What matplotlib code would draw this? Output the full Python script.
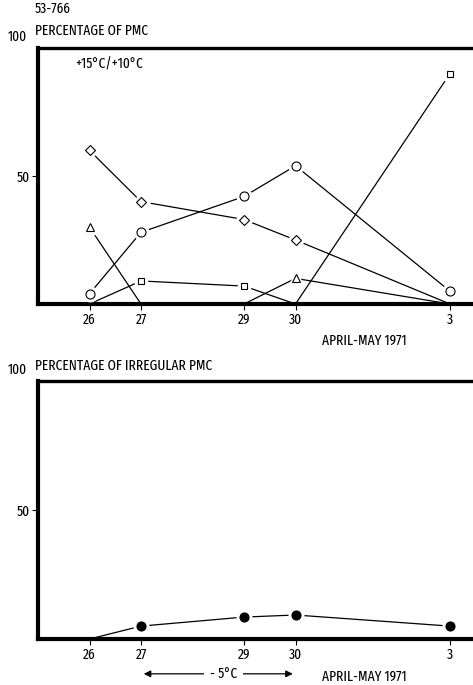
import matplotlib
matplotlib.use("Agg")
import matplotlib.pyplot as plt
import numpy as np

plt.rcParams['font.family'] = ['Fira Sans Extra Condensed', 'DejaVu Sans']
plt.rcParams['font.weight'] = 'normal'

# day index: April 26..30 -> 26..30, May 3 -> 33
days = [26, 27, 29, 30, 33]
day_labels = ["26", "27", "29", "30", "3"]

diamond = [60, 40, 33, 25, 0]
circle = [4, 28, 42, 54, 5]
triangle = [30, 0, 0, 10, 0]
square = [0, 9, 7, 0, 90]

irregular = [0, 5, 8.5, 9.3, 5]

W, H = 473, 685
fig = plt.figure(figsize=(W / 100, H / 100), dpi=100)

def fx(px):
    return px / W

def fy(py):
    return 1 - py / H

ax_left = 38
ax_w = 8.5 * 51.5
FS = 10.5

def make_ax(y0, y100):
    ax = fig.add_axes([fx(ax_left), fy(y0), ax_w / W, (y0 - y100) / H])
    ax.set_xlim(25, 33.5)
    ax.set_ylim(0, 100)
    ax.spines['right'].set_visible(False)
    ax.spines['left'].set_linewidth(3.0)
    ax.spines['bottom'].set_linewidth(3.0)
    ax.spines['top'].set_linewidth(2.4)
    ax.set_xticks(days)
    ax.set_xticklabels(day_labels, fontsize=FS)
    ax.set_yticks([50])
    ax.set_yticklabels(["50"], fontsize=FS)
    ax.tick_params(axis='both', direction='out', length=4, width=0.8, pad=2)
    ax.text(-0.068, 1.015, "100", transform=ax.transAxes, fontsize=FS, ha='left', va='bottom')
    return ax

def series(ax, vals, marker, ms, filled=False):
    mask = [v > 0 for v in vals]
    ax.plot(days, vals, color='black', lw=0.9, zorder=2, clip_on=False)
    xs = [d for d, m in zip(days, mask) if m]
    ys = [v for v, m in zip(vals, mask) if m]
    ax.plot(xs, ys, ls='none', marker=marker, ms=ms + 4, mfc='white', mec='white', zorder=3, clip_on=False)
    ax.plot(xs, ys, ls='none', marker=marker, ms=ms, mfc='black' if filled else 'white',
            mec='black', mew=0.8, zorder=4, clip_on=False)

# top panel
ax1 = make_ax(304, 48)
series(ax1, diamond, 'D', 5)
series(ax1, circle, 'o', 6.5)
series(ax1, triangle, '^', 6)
series(ax1, square, 's', 5)

fig.text(fx(35), fy(9), "53-766", fontsize=FS, ha='left', va='center')
fig.text(fx(35), fy(31), "PERCENTAGE OF PMC", fontsize=FS, ha='left', va='center')
fig.text(fx(75), fy(64), "+15°C/+10°C", fontsize=FS, ha='left', va='center')
fig.text(fx(322), fy(341), "APRIL-MAY 1971", fontsize=FS, ha='left', va='center')

# bottom panel
ax2 = make_ax(639, 381)
series(ax2, irregular, 'o', 6.5, filled=True)

fig.text(fx(35), fy(366), "PERCENTAGE OF IRREGULAR PMC", fontsize=FS, ha='left', va='center')
fig.text(fx(322), fy(677), "APRIL-MAY 1971", fontsize=FS, ha='left', va='center')

# -5°C arrow
arrow_y = -13.5
ax2.annotate("", xy=(27, arrow_y), xytext=(28.6, arrow_y),
             arrowprops=dict(arrowstyle='-|>', color='black', lw=0.9, mutation_scale=10),
             annotation_clip=False)
ax2.annotate("", xy=(30, arrow_y), xytext=(28.6, arrow_y),
             arrowprops=dict(arrowstyle='-|>', color='black', lw=0.9, mutation_scale=10),
             annotation_clip=False)
ax2.text(28.6, arrow_y, "- 5°C", fontsize=FS, ha='center', va='center',
         bbox=dict(facecolor='white', edgecolor='none', pad=4), zorder=5, clip_on=False)

fig.savefig("out.png", dpi=100)
